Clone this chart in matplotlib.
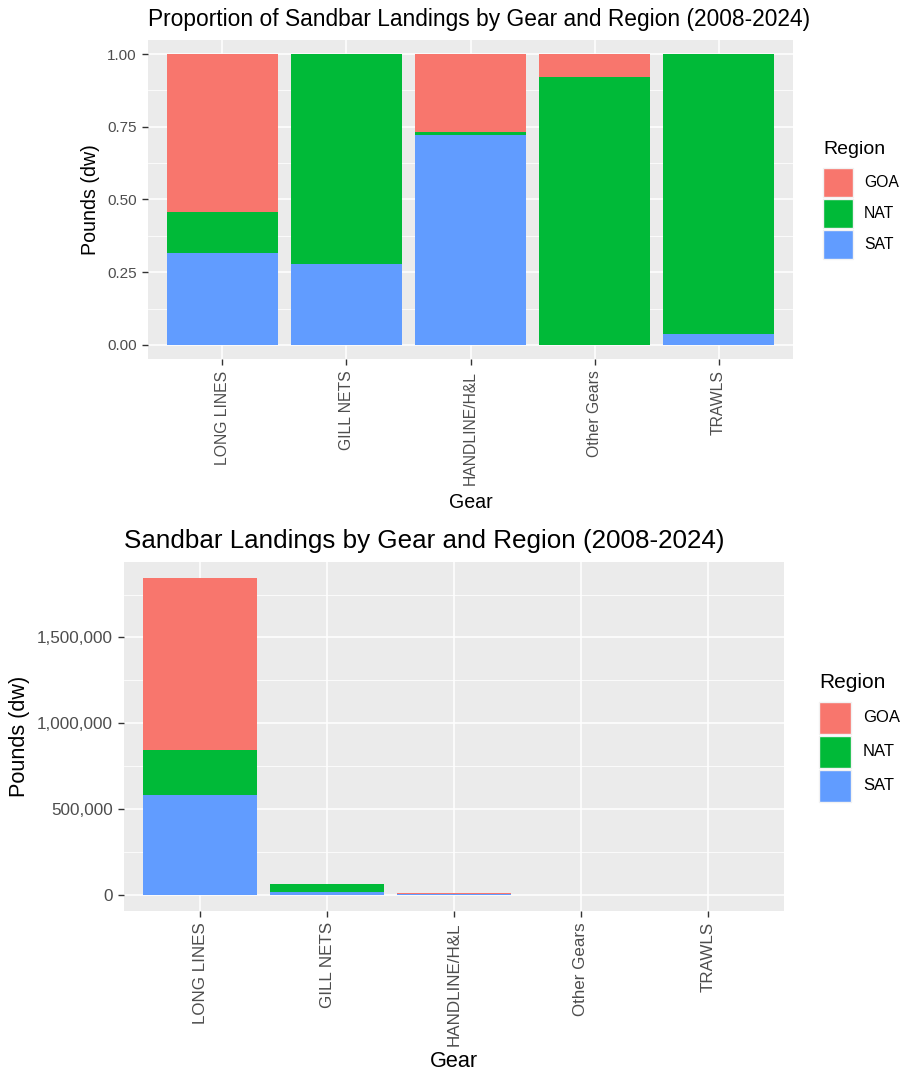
import matplotlib
matplotlib.use('Agg')
import matplotlib.pyplot as plt
import matplotlib.ticker as mticker
from matplotlib.patches import Rectangle
import numpy as np

plt.rcParams['font.family'] = ['Liberation Sans', 'DejaVu Sans']

# 数据
gears = ['LONG LINES', 'GILL NETS', 'HANDLINE/H&L', 'Other Gears', 'TRAWLS']
regions = ['GOA', 'NAT', 'SAT']
colors = {'GOA': '#F8766D', 'NAT': '#00BA38', 'SAT': '#619CFF'}

# 磅数 (dw)
sat_lbs = [583000, 17700, 8700, 0, 110]
nat_lbs = [262000, 46300, 120, 2800, 2900]
goa_lbs = [1002000, 0, 3200, 240, 0]

# 比例
sat_prop = [0.317, 0.277, 0.723, 0.0, 0.037]
nat_prop = [0.141, 0.723, 0.010, 0.921, 0.963]
goa_prop = [0.542, 0.0, 0.267, 0.079, 0.0]

W, H = 904, 1074
fig = plt.figure(figsize=(W / 100, H / 100), dpi=100)


def legend(x, ytitle, ykeys, kw, kh, lx, fs_title, fs_lab):
    # 手动画图例（像素坐标）
    fig.text(x / W, 1 - ytitle / H, 'Region', fontsize=fs_title, ha='left', va='center')
    for r, y0 in zip(regions, ykeys):
        fig.patches.append(Rectangle((x / W, 1 - (y0 + kh) / H), kw / W, kh / H,
                                     transform=fig.transFigure, facecolor=colors[r],
                                     edgecolor='#F2F2F2', lw=1))
        fig.text(lx / W, 1 - (y0 + kh / 2) / H, r, fontsize=fs_lab, ha='left', va='center')


def panel(rect, sat, nat, goa, title, fs, yticks, yfmt, minor, ymax):
    ax = fig.add_axes([rect[0] / W, 1 - rect[3] / H, (rect[2] - rect[0]) / W, (rect[3] - rect[1]) / H])
    ax.set_facecolor('#EBEBEB')
    x = np.arange(len(gears))
    ax.bar(x, sat, 0.9, color=colors['SAT'], zorder=3)
    ax.bar(x, nat, 0.9, bottom=sat, color=colors['NAT'], zorder=3)
    ax.bar(x, goa, 0.9, bottom=np.array(sat) + np.array(nat), color=colors['GOA'], zorder=3)
    ax.set_xlim(-0.6, len(gears) - 0.4)
    ax.set_ylim(-0.05 * ymax, 1.05 * ymax)
    for sp in ax.spines.values():
        sp.set_visible(False)
    ax.set_xticks(x)
    ax.set_xticklabels(gears, rotation=90, fontsize=fs['xt'], color='#4D4D4D')
    ax.set_yticks(yticks)
    ax.yaxis.set_major_formatter(yfmt)
    ax.yaxis.set_minor_locator(mticker.FixedLocator(minor))
    ax.tick_params(axis='y', labelsize=fs['yt'], labelcolor='#4D4D4D')
    ax.tick_params(which='major', length=4, width=1, color='#333333', pad=4)
    ax.tick_params(which='minor', length=0)
    ax.grid(which='major', color='white', lw=1.1, zorder=0)
    ax.grid(which='minor', axis='y', color='white', lw=0.55, zorder=0)
    ax.set_axisbelow(True)
    ax.set_xlabel('Gear', fontsize=fs['lab'], labelpad=fs['xpad'])
    ax.set_ylabel('Pounds (dw)', fontsize=fs['lab'], labelpad=5)
    ax.set_title(title, fontsize=fs['title'], loc='left', pad=10)
    return ax


panel((148, 39.5, 793, 359.5), sat_prop, nat_prop, goa_prop,
      'Proportion of Sandbar Landings by Gear and Region (2008-2024)',
      {'xt': 11.3, 'yt': 11.0, 'lab': 14.1, 'title': 16.4, 'xpad': 6},
      [0, 0.25, 0.5, 0.75, 1.0], mticker.FormatStrFormatter('%.2f'),
      [0.125, 0.375, 0.625, 0.875], 1.0)
legend(823, 149, [168, 199, 230], 30, 29, 864, 14, 11.3)

panel((124, 562, 784, 911), sat_lbs, nat_lbs, goa_lbs,
      'Sandbar Landings by Gear and Region (2008-2024)',
      {'xt': 12.25, 'yt': 12.3, 'lab': 15.6, 'title': 18.7, 'xpad': 4},
      [0, 500000, 1000000, 1500000], mticker.FuncFormatter(lambda v, p: f'{int(v):,}'),
      [250000, 750000, 1250000, 1750000],
      sum([sat_lbs[0], nat_lbs[0], goa_lbs[0]]))
legend(819, 682, [702, 736, 770], 32, 32, 863, 15, 12)

fig.savefig('out.png', dpi=100)
